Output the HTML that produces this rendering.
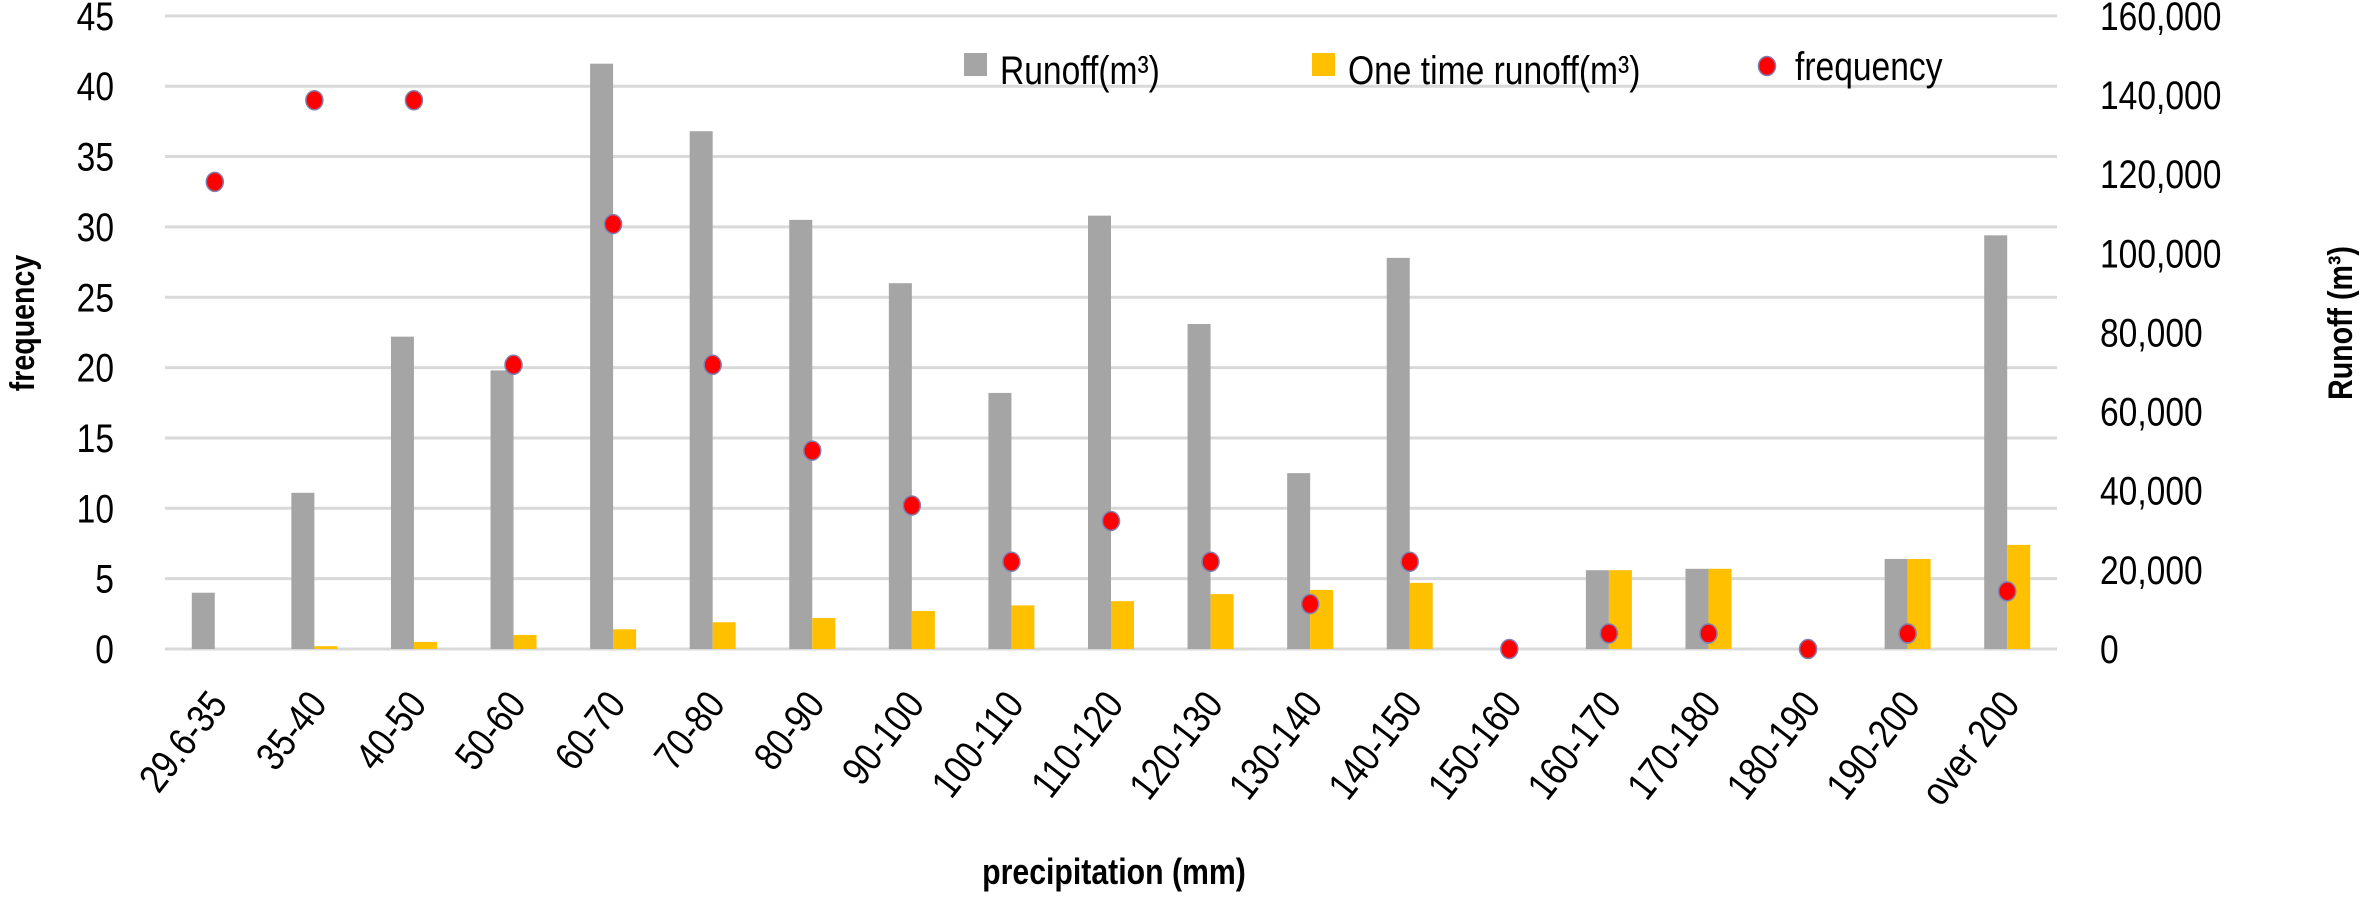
<!DOCTYPE html>
<html><head><meta charset="utf-8"><style>
html,body{margin:0;padding:0;background:#fff;}
svg{display:block;}
text{font-family:"Liberation Sans",sans-serif;fill:#000;}
</style></head><body>
<svg id="c" width="2362" height="901" xmlns="http://www.w3.org/2000/svg"></svg>
<script>
const svg=document.getElementById('c');
const NS='http://www.w3.org/2000/svg';
function el(t,a,txt){const e=document.createElementNS(NS,t);for(const k in a)e.setAttribute(k,a[k]);if(txt!==undefined)e.textContent=txt;svg.appendChild(e);return e;}
function tx(x,y,s,opts,extra){const a=Object.assign({x:0,y:0,transform:`translate(${x},${y}) ${extra||''} scale(0.84,1)`},opts);return el('text',a,s);}
const L=165,R=2057,Z=649,U=14.07,W=(R-L)/19;
const Y=v=>Z-v*U;
for(let i=0;i<=9;i++){el('line',{x1:L,x2:R,y1:Y(i*5),y2:Y(i*5),stroke:'#d9d9d9','stroke-width':3});
 tx(114,Y(i*5)+14,String(i*5),{'text-anchor':'end','font-size':40});}
for(let i=0;i<=8;i++){const yy=Z-i*(Z-Y(45))/8;
 tx(2100,yy+14,i==0?'0':(i*20000).toLocaleString('en-US'),{'font-size':40});}
const cats=["29.6-35","35-40","40-50","50-60","60-70","70-80","80-90","90-100","100-110","110-120","120-130","130-140","140-150","150-160","160-170","170-180","180-190","190-200","over 200"];
const g=[4,11.1,22.2,19.8,41.6,36.8,30.5,26,18.2,30.8,23.1,12.5,27.8,0,5.6,5.7,0,6.4,29.4];
const y=[0,0.2,0.5,1.0,1.4,1.9,2.2,2.7,3.1,3.4,3.9,4.2,4.7,0,5.6,5.7,0,6.4,7.4];
const f=[33.2,39,39,20.2,30.2,20.2,14.1,10.2,6.2,9.1,6.2,3.2,6.2,0,1.1,1.1,0,1.1,4.1];
cats.forEach((c,i)=>{const cx=L+W*(i+0.5);
 if(g[i]>0)el('rect',{x:cx-23,y:Y(g[i]),width:23,height:g[i]*U,fill:'#a5a5a5'});
 if(y[i]>0)el('rect',{x:cx,y:Y(y[i]),width:23,height:y[i]*U,fill:'#ffc000'});
 tx(cx+14,705,c,{'text-anchor':'end','font-size':40},'rotate(-52)');
});
cats.forEach((c,i)=>{const cx=L+W*(i+0.5);
 el('ellipse',{cx:cx,cy:Y(f[i]),rx:8.5,ry:9.5,fill:'#ff0000',stroke:'#7f7fb0','stroke-width':1.5});});
tx(34,323,'frequency',{'text-anchor':'middle','font-size':34,'font-weight':'bold'},'rotate(-90)');
tx(2352,323,'Runoff (m³)',{'text-anchor':'middle','font-size':34,'font-weight':'bold'},'rotate(-90)');
tx(1114,884,'precipitation (mm)',{'text-anchor':'middle','font-size':36,'font-weight':'bold'});
el('rect',{x:964,y:53,width:23,height:23,fill:'#a5a5a5'});
tx(1000,84,'Runoff(m³)',{'font-size':40});
el('rect',{x:1312,y:53,width:23,height:23,fill:'#ffc000'});
tx(1348,84,'One time runoff(m³)',{'font-size':40});
el('ellipse',{cx:1767,cy:66,rx:8.5,ry:9.5,fill:'#ff0000',stroke:'#7f7fb0','stroke-width':1.5});
tx(1795,80,'frequency',{'font-size':40});
</script>
</body></html>
